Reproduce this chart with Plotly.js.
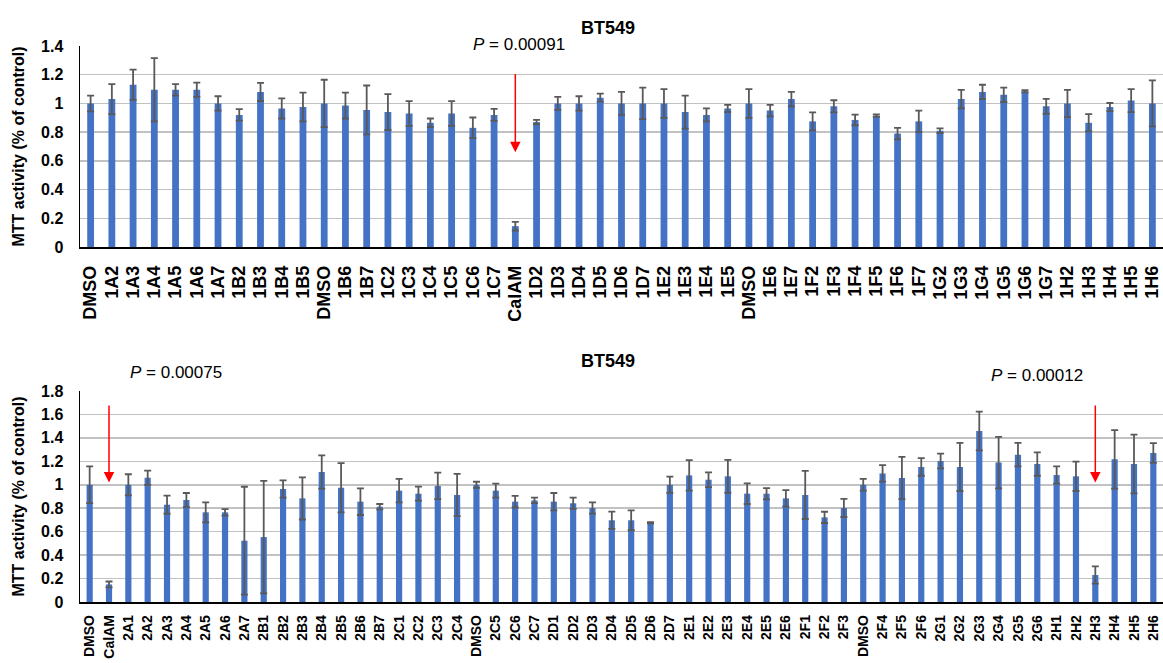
<!DOCTYPE html>
<html>
<head>
<meta charset="utf-8">
<script src="https://cdn.plot.ly/plotly-3.0.1.min.js"></script>
<style>html,body{margin:0;padding:0;background:#fff;}#chart{width:1163px;height:663px;}</style>
</head>
<body>
<div id="chart"></div>
<script>
// ---- Top panel data ----
const topLabels = ["DMSO","1A2","1A3","1A4","1A5","1A6","1A7","1B2","1B3","1B4","1B5","DMSO","1B6","1B7","1C2","1C3","1C4","1C5","1C6","1C7","CalAM","1D2","1D3","1D4","1D5","1D6","1D7","1E2","1E3","1E4","1E5","DMSO","1E6","1E7","1F2","1F3","1F4","1F5","1F6","1F7","1G2","1G3","1G4","1G5","1G6","1G7","1H2","1H3","1H4","1H5","1H6"];
const topValues = [1.00,1.03,1.13,1.095,1.095,1.095,1.00,0.92,1.08,0.965,0.975,1.00,0.985,0.955,0.94,0.93,0.865,0.93,0.83,0.92,0.145,0.87,1.00,1.00,1.04,1.00,1.00,1.00,0.94,0.92,0.965,1.00,0.95,1.03,0.875,0.98,0.885,0.915,0.79,0.875,0.81,1.03,1.08,1.06,1.085,0.98,1.00,0.865,0.975,1.02,1.00];
const topErrors = [0.055,0.105,0.105,0.22,0.04,0.05,0.05,0.04,0.063,0.07,0.10,0.165,0.09,0.17,0.125,0.086,0.03,0.086,0.072,0.042,0.03,0.015,0.045,0.05,0.028,0.08,0.11,0.10,0.115,0.045,0.025,0.10,0.04,0.05,0.063,0.042,0.037,0.008,0.04,0.075,0.016,0.065,0.05,0.05,0.008,0.052,0.095,0.06,0.028,0.08,0.16];

// ---- Bottom panel data ----
const botLabels = ["DMSO","CalAM","2A1","2A2","2A3","2A4","2A5","2A6","2A7","2B1","2B2","2B3","2B4","2B5","2B6","2B7","2C1","2C2","2C3","2C4","DMSO","2C5","2C6","2C7","2D1","2D2","2D3","2D4","2D5","2D6","2D7","2E1","2E2","2E3","2E4","2E5","2E6","2F1","2F2","2F3","DMSO","2F4","2F5","2F6","2G1","2G2","2G3","2G4","2G5","2G6","2H1","2H2","2H3","2H4","2H5","2H6"];
const botValues = [1.00,0.15,1.00,1.06,0.83,0.87,0.765,0.765,0.523,0.554,0.964,0.884,1.109,0.975,0.856,0.813,0.95,0.924,0.99,0.913,1.00,0.95,0.856,0.867,0.856,0.842,0.802,0.697,0.697,0.677,1.00,1.08,1.043,1.072,0.924,0.924,0.884,0.913,0.722,0.802,1.00,1.097,1.058,1.152,1.203,1.152,1.459,1.189,1.257,1.177,1.083,1.072,0.23,1.217,1.177,1.271];
const botErrors = [0.157,0.025,0.09,0.06,0.077,0.06,0.085,0.028,0.46,0.48,0.074,0.18,0.142,0.21,0.114,0.023,0.10,0.06,0.113,0.18,0.026,0.06,0.05,0.023,0.074,0.048,0.048,0.074,0.085,0.005,0.069,0.13,0.063,0.14,0.088,0.048,0.071,0.205,0.048,0.077,0.05,0.07,0.18,0.075,0.063,0.205,0.165,0.22,0.10,0.10,0.074,0.125,0.074,0.25,0.25,0.085];

// ---- Annotation texts ----
const panelTitle = "BT549";
const yTitle = "MTT activity (% of control)";
const pTop = "<i>P</i> = 0.00091";
const pBotLeft = "<i>P</i> = 0.00075";
const pBotRight = "<i>P</i> = 0.00012";
const arrowTopIdx = topLabels.indexOf("CalAM");
const arrowBotLeftIdx = botLabels.indexOf("CalAM");
const arrowBotRightIdx = botLabels.indexOf("2H3");

const FONT = "Liberation Sans, Arial, sans-serif";
const BAR = "#4472c4";
const ERR = "#595959";
const W = 1163, H = 663, L = 80;
const px = v => (v - L) / (W - L);
const py = v => 1 - v / H;

const topX = topLabels.map((_, i) => i);
const botX = botLabels.map((_, i) => i);

const traces = [
  {
    type: "bar", x: topX, y: topValues, xaxis: "x", yaxis: "y",
    marker: {color: BAR},
    error_y: {type: "data", array: topErrors, visible: true, color: ERR, thickness: 1.8, width: 3.5},
    hoverinfo: "y"
  },
  {
    type: "bar", x: botX, y: botValues, xaxis: "x2", yaxis: "y2",
    marker: {color: BAR},
    error_y: {type: "data", array: botErrors, visible: true, color: ERR, thickness: 1.8, width: 3.5},
    hoverinfo: "y"
  }
];

const yCommon = {
  showline: true, linecolor: "#000", linewidth: 1.5,
  showgrid: true, gridcolor: "#c2c2c2", gridwidth: 1.5,
  zeroline: false, ticks: "", ticklabelstandoff: 12,
  tickfont: {family: FONT, size: 16, color: "#000", weight: "bold"},
  fixedrange: true
};
const xCommon = {
  showline: true, linecolor: "#000", linewidth: 1.5,
  showgrid: false, zeroline: false, ticks: "", tickangle: -90,
  fixedrange: true
};

const layout = {
  width: W, height: H,
  margin: {l: L, r: 0, t: 0, b: 0},
  paper_bgcolor: "#fff", plot_bgcolor: "#fff",
  showlegend: false,
  bargap: 0.68,
  xaxis: Object.assign({}, xCommon, {
    anchor: "y", domain: [0, 1], range: [-0.5, topLabels.length - 0.5],
    tickmode: "array", tickvals: topX, ticktext: topLabels, ticklabelstandoff: 10,
    tickfont: {family: FONT, size: 18, color: "#000", weight: "bold"}
  }),
  yaxis: Object.assign({}, yCommon, {
    anchor: "x", domain: [py(247), py(46)], range: [0, 1.4], dtick: 0.2,
    title: {text: yTitle, standoff: 12,
            font: {family: FONT, size: 16, color: "#000", weight: "bold"}}
  }),
  xaxis2: Object.assign({}, xCommon, {
    anchor: "y2", domain: [0, 1], range: [-0.5, botLabels.length - 0.5],
    tickmode: "array", tickvals: botX, ticktext: botLabels, ticklabelstandoff: 6,
    tickfont: {family: FONT, size: 14, color: "#000", weight: "bold"}
  }),
  yaxis2: Object.assign({}, yCommon, {
    anchor: "x2", domain: [py(602), py(391)], range: [0, 1.8], dtick: 0.2,
    title: {text: yTitle, standoff: 12,
            font: {family: FONT, size: 16, color: "#000", weight: "bold"}}
  }),
  annotations: [
    {text: "<b>" + panelTitle + "</b>", xref: "paper", yref: "paper", x: px(608), y: py(16),
     showarrow: false, font: {family: FONT, size: 18, color: "#000"}},
    {text: pTop, xref: "paper", yref: "paper", x: px(519), y: py(33),
     showarrow: false, font: {family: FONT, size: 17, color: "#000"}},
    {text: "<b>" + panelTitle + "</b>", xref: "paper", yref: "paper", x: px(608), y: py(361),
     showarrow: false, font: {family: FONT, size: 18, color: "#000"}},
    {text: pBotLeft, xref: "paper", yref: "paper", x: px(128), y: py(372),
     showarrow: false, font: {family: FONT, size: 17, color: "#000"}},
    {text: pBotRight, xref: "paper", yref: "paper", x: px(1085), y: py(375),
     showarrow: false, font: {family: FONT, size: 17, color: "#000"}},
    {text: "", xref: "x", yref: "y", x: arrowTopIdx, y: 0.66, axref: "x", ayref: "y",
     ax: arrowTopIdx, ay: 1.215, showarrow: true, arrowhead: 2, arrowsize: 1.4,
     arrowwidth: 1.5, arrowcolor: "#ff0000"},
    {text: "", xref: "x2", yref: "y2", x: arrowBotLeftIdx, y: 1.02, axref: "x2", ayref: "y2",
     ax: arrowBotLeftIdx, ay: 1.69, showarrow: true, arrowhead: 2, arrowsize: 1.4,
     arrowwidth: 1.5, arrowcolor: "#ff0000"},
    {text: "", xref: "x2", yref: "y2", x: arrowBotRightIdx, y: 1.02, axref: "x2", ayref: "y2",
     ax: arrowBotRightIdx, ay: 1.69, showarrow: true, arrowhead: 2, arrowsize: 1.4,
     arrowwidth: 1.5, arrowcolor: "#ff0000"}
  ]
};

Plotly.newPlot("chart", traces, layout, {displayModeBar: false, staticPlot: true});
</script>
</body>
</html>
